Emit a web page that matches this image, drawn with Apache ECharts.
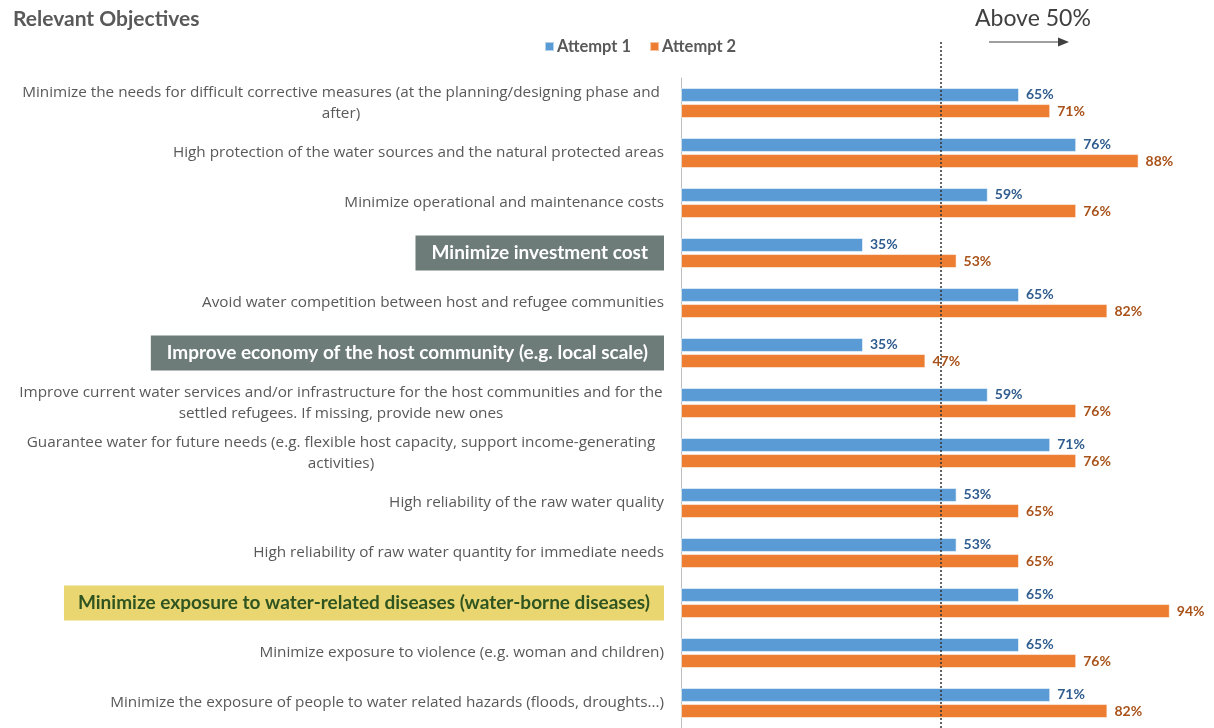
<!DOCTYPE html>
<html>
<head>
<meta charset="utf-8">
<title>Relevant Objectives</title>
<script src="https://cdn.jsdelivr.net/npm/echarts@6/dist/echarts.min.js"></script>
<style>
  html, body { margin: 0; padding: 0; background: #ffffff; }
  #chart { width: 1214px; height: 728px; }
</style>
</head>
<body>
<div id="chart"></div>
<script>
// Objectives, listed top to bottom
const categories = [
  'Minimize the needs for difficult corrective measures (at the planning/designing phase and\nafter)',
  'High protection of the water sources and the natural protected areas',
  'Minimize operational and maintenance costs',
  'Minimize investment cost',
  'Avoid water competition between host and refugee communities',
  'Improve economy of the host community (e.g. local scale)',
  'Improve current water services and/or infrastructure for the host communities and for the\nsettled refugees. If missing, provide new ones',
  'Guarantee water for future needs (e.g. flexible host capacity, support income-generating\nactivities)',
  'High reliability of the raw water quality',
  'High reliability of raw water quantity for immediate needs',
  'Minimize exposure to water-related diseases (water-borne diseases)',
  'Minimize exposure to violence (e.g. woman and children)',
  'Minimize the exposure of people to water related hazards (floods, droughts...)'
];

// Share of respondents (%)
const attempt1 = [65, 76, 59, 35, 65, 35, 59, 71, 53, 53, 65, 65, 71];
const attempt2 = [71, 88, 76, 53, 82, 47, 76, 76, 65, 65, 94, 76, 82];

const seriesNames = ['Attempt 1', 'Attempt 2'];
const threshold = 50;

// Objectives drawn inside a coloured box
const highlighted = { 3: 'g', 5: 'g', 10: 'y' };

const chart = echarts.init(document.getElementById('chart'));

function labelFormatter(value, idx) {
  if (highlighted[idx]) return '{' + highlighted[idx] + '|' + value + '}';
  if (value.indexOf('\n') >= 0) {
    return value.split('\n').map(l => '{c|' + l + '}').join('\n');
  }
  return value;
}

const barLabel = (color) => ({
  show: true,
  position: 'right',
  distance: 7,
  formatter: '{c}%',
  color: color,
  fontFamily: 'Lato',
  fontWeight: 'bold',
  fontSize: 14
});

const option = {
  animation: false,
  backgroundColor: '#ffffff',
  title: {
    text: 'Relevant Objectives',
    left: 8,
    top: 4,
    textStyle: { fontFamily: 'Lato', fontWeight: 'bold', fontSize: 21, color: '#595959' }
  },
  legend: {
    data: seriesNames,
    left: 539,
    top: 33,
    icon: 'rect',
    itemWidth: 9,
    itemHeight: 9,
    itemGap: 18,
    textStyle: { fontFamily: 'Lato', fontWeight: 'bold', fontSize: 16.5, color: '#595959', padding: [0, 0, 0, -2] }
  },
  grid: { left: 681, right: 13, top: 78, bottom: 0, containLabel: false },
  xAxis: {
    type: 'value',
    min: 0,
    max: 100,
    show: false,
    splitLine: { show: false }
  },
  yAxis: {
    type: 'category',
    data: categories,
    inverse: true,
    axisLine: { show: true, lineStyle: { color: '#bfbfbf', width: 1 } },
    axisTick: { show: false },
    axisLabel: {
      margin: 17,
      align: 'right',
      fontFamily: 'Open Sans',
      fontSize: 15.3,
      color: '#595959',
      lineHeight: 21,
      formatter: labelFormatter,
      rich: {
        c: { width: 646, align: 'center', fontFamily: 'Open Sans', fontSize: 15.3, color: '#595959', lineHeight: 21 },
        g: {
          backgroundColor: '#6e7c79', color: '#ffffff', fontFamily: 'Lato', fontWeight: 'bold',
          fontSize: 19, padding: [8, 16, 8, 16]
        },
        y: {
          backgroundColor: '#e9d670', color: '#2f5420', fontFamily: 'Lato', fontWeight: 'bold',
          fontSize: 19, padding: [8, 14, 8, 14]
        }
      }
    }
  },
  series: [
    {
      name: seriesNames[0],
      type: 'bar',
      data: attempt1,
      barWidth: 14,
      barGap: '15%',
      itemStyle: { color: '#5b9bd5', borderColor: 'rgba(255,255,255,0.55)', borderWidth: 1 },
      label: barLabel('#2f5c8f'),
      z: 2
    },
    {
      name: seriesNames[1],
      type: 'bar',
      data: attempt2,
      barWidth: 14,
      itemStyle: { color: '#ed7d31', borderColor: 'rgba(255,255,255,0.55)', borderWidth: 1 },
      label: barLabel('#a9521a'),
      z: 2,
      markLine: {
        silent: true,
        symbol: ['none', 'none'],
        z: 5,
        label: { show: false },
        lineStyle: { color: '#333333', type: [2, 2], width: 1.5 },
        data: [{ xAxis: threshold }]
      }
    }
  ]
};

chart.setOption(option);

// Threshold annotation: dotted line continues above the plot, with caption and arrow
const xPix = chart.convertToPixel({ xAxisIndex: 0 }, threshold);
chart.setOption({
  graphic: [
    {
      type: 'line',
      shape: { x1: xPix, y1: 42, x2: xPix, y2: 78 },
      style: { stroke: '#333333', lineWidth: 1.5, lineDash: [2, 2] },
      silent: true
    },
    {
      type: 'text',
      left: 975,
      top: 7,
      style: { text: 'Above 50%', fontFamily: 'Lato', fontSize: 23, fill: '#404040' }
    },
    {
      type: 'line',
      shape: { x1: 989, y1: 42, x2: 1060, y2: 42 },
      style: { stroke: '#404040', lineWidth: 1.2 }
    },
    {
      type: 'polygon',
      shape: { points: [[1058, 37.5], [1069, 42], [1058, 46.5]] },
      style: { fill: '#404040' }
    }
  ]
});
</script>
</body>
</html>
